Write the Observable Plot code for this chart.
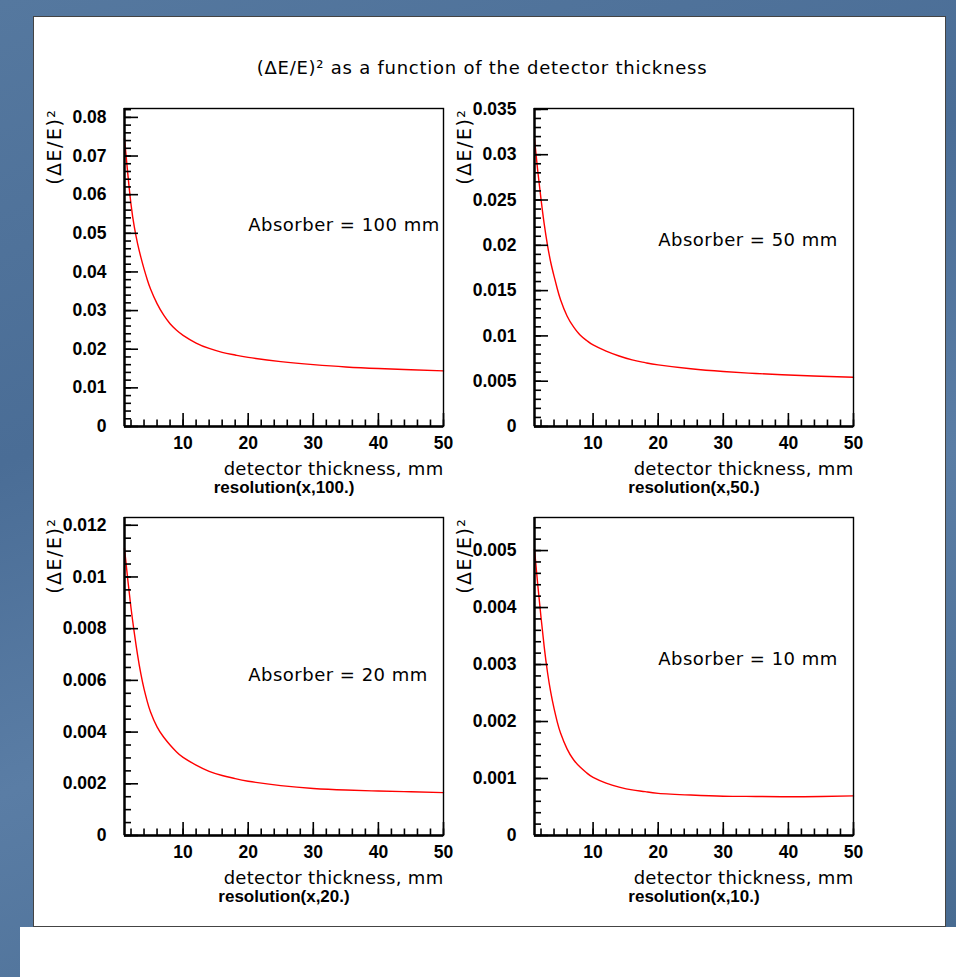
<!DOCTYPE html>
<html><head><meta charset="utf-8">
<script src="https://cdn.jsdelivr.net/npm/d3@7"></script>
<script src="https://cdn.jsdelivr.net/npm/@observablehq/plot@0.6"></script>
<style>
html,body{margin:0;padding:0;}
body{width:956px;height:977px;overflow:hidden;position:relative;
  background:linear-gradient(160deg,#55789f 0%,#4a6d96 35%,#5a7da5 60%,#46698f 100%);}
#below{position:absolute;left:20px;top:927px;width:936px;height:50px;background:#fff;}
#canvas{position:absolute;left:33px;top:16px;width:911px;height:909px;background:#fff;border:1px solid #444;}
#title{position:absolute;left:132px;width:700px;top:57px;text-align:center;font-family:"DejaVu Sans",sans-serif;font-size:18px;letter-spacing:0.75px;color:#000;}
.panel{position:absolute;}
.panel svg{overflow:visible;}
</style></head><body>
<div id="below"></div>
<div id="canvas"></div>
<div id="title">(ΔE/E)² as a function of the detector thickness</div>
<div class="panel" id="p0" style="left:40px;top:95.5px"></div>
<div class="panel" id="p1" style="left:450px;top:95.5px"></div>
<div class="panel" id="p2" style="left:40px;top:505px"></div>
<div class="panel" id="p3" style="left:450px;top:505px"></div>
<script>
// detector thickness (mm) sample points
const thickness = [1, 1.5, 2, 2.5, 3, 3.5, 4, 4.5, 5, 6, 7, 8, 9, 10, 12, 14, 16, 18, 20, 25, 30, 35, 40, 45, 50];
// (ΔE/E)^2 for each absorber thickness
const res100 = [0.0745, 0.0655, 0.0575, 0.0517, 0.0474, 0.0439, 0.0408, 0.0380, 0.0356, 0.0318, 0.0289, 0.0266, 0.0249, 0.0236, 0.0216, 0.0202, 0.0192, 0.0185, 0.0179, 0.0168, 0.0160, 0.0154, 0.0150, 0.0147, 0.0144];
const res50  = [0.0317, 0.0282, 0.0251, 0.0223, 0.0200, 0.0181, 0.0166, 0.0152, 0.0140, 0.0122, 0.0110, 0.0101, 0.0095, 0.0090, 0.00832, 0.00778, 0.00735, 0.00705, 0.00680, 0.00637, 0.00607, 0.00585, 0.00568, 0.00555, 0.00543];
const res20  = [0.0111, 0.0099, 0.0088, 0.00785, 0.0070, 0.00627, 0.00567, 0.00518, 0.00478, 0.00420, 0.00381, 0.00350, 0.00323, 0.00302, 0.00272, 0.00248, 0.00232, 0.00220, 0.00210, 0.00193, 0.00182, 0.00176, 0.00172, 0.00169, 0.00166];
const res10  = [0.00502, 0.00440, 0.00383, 0.00330, 0.00286, 0.00251, 0.00223, 0.00199, 0.00180, 0.00152, 0.00133, 0.00120, 0.00110, 0.00102, 0.00092, 0.00085, 0.00080, 0.00077, 0.00074, 0.00071, 0.00069, 0.000685, 0.00068, 0.000685, 0.000695];

const functionNames = ["resolution(x,100.)", "resolution(x,50.)", "resolution(x,20.)", "resolution(x,10.)"];
const absorberLabels = ["Absorber = 100 mm", "Absorber = 50 mm", "Absorber = 20 mm", "Absorber = 10 mm"];
const absorberLabelX = [20, 20, 20, 20];
const absorberLabelY = [0.052, 0.0206, 0.0062, 0.0031];

const xRange = [1, 50];
const xTicks = [10, 20, 30, 40, 50];
const xMinorStep = 2;
const yTop = [0.0823, 0.0351, 0.0123, 0.00558];
const yTicks100 = [0, 0.01, 0.02, 0.03, 0.04, 0.05, 0.06, 0.07, 0.08];
const yTicks50  = [0, 0.005, 0.01, 0.015, 0.02, 0.025, 0.03, 0.035];
const yTicks20  = [0, 0.002, 0.004, 0.006, 0.008, 0.01, 0.012];
const yTicks10  = [0, 0.001, 0.002, 0.003, 0.004, 0.005];
const yMinorStep = [0.002, 0.001, 0.0005, 0.0002];

const xTitle = "detector thickness, mm";
const yTitle = "(ΔE/E)²";

const series = [res100, res50, res20, res10];
const yTicks = [yTicks100, yTicks50, yTicks20, yTicks10];

function minorTicks(lo, hi, step) {
  const n = Math.floor(hi / step + 1e-9);
  const out = [];
  for (let k = Math.ceil(lo / step - 1e-9); k <= n; k++) out.push(+(k * step).toPrecision(10));
  return out;
}

const tickFont = '"Liberation Sans", Arial, sans-serif';
const textFont = '"DejaVu Sans", sans-serif';

function panel(i) {
  const W = 418, H = 410, mL = 84, mR = 15, mT = 12, mB = 80;
  const fw = W - mL - mR, fh = H - mT - mB;
  const data = thickness.map((x, j) => ({thickness: x, value: series[i][j]}));
  const yMinor = minorTicks(0, yTop[i], yMinorStep[i]);
  const xMinor = minorTicks(xRange[0], xRange[1], xMinorStep);
  return Plot.plot({
    width: W, height: H,
    marginLeft: mL, marginRight: mR, marginTop: mT, marginBottom: mB,
    x: {domain: xRange},
    y: {domain: [0, yTop[i]]},
    style: {background: "transparent", overflow: "visible"},
    marks: [
      Plot.line(data, {x: "thickness", y: "value", stroke: "#ff0000", strokeWidth: 1.4, curve: "natural"}),
      Plot.frame({stroke: "#000", strokeWidth: 1.4}),
      Plot.tickY(yMinor, {y: d => d, insetRight: fw - 7, stroke: "#000", strokeWidth: 1.6}),
      Plot.tickY(yTicks[i], {y: d => d, insetRight: fw - 14, stroke: "#000", strokeWidth: 1.6}),
      Plot.tickX(xMinor, {x: d => d, insetTop: fh - 6.5, stroke: "#000", strokeWidth: 1.6}),
      Plot.tickX(xTicks, {x: d => d, insetTop: fh - 13, stroke: "#000", strokeWidth: 1.6}),
      Plot.ruleX([xRange[0]], {stroke: "#000", strokeWidth: 2.4}),
      Plot.ruleY([0], {stroke: "#000", strokeWidth: 2.4}),
      Plot.axisY(yTicks[i], {tickSize: 0, tickPadding: 18, tickFormat: d => String(d), label: null,
        fontSize: 17.5, fontWeight: "bold", fontFamily: tickFont, fill: "#000"}),
      Plot.axisX(xTicks, {tickSize: 0, tickPadding: 10, tickFormat: d => String(d), label: null,
        fontSize: 17.5, fontWeight: "bold", fontFamily: tickFont, fill: "#000"}),
      Plot.text([xTitle], {text: d => d, frameAnchor: "bottom-right", dy: 42.5, textAnchor: "end",
        lineAnchor: "middle", fontSize: 18, fontFamily: textFont, fill: "#000"}),
      Plot.text([functionNames[i]], {text: d => d, frameAnchor: "bottom", dy: 61.5, textAnchor: "middle",
        lineAnchor: "middle", fontSize: 17, fontWeight: "bold", fontFamily: tickFont, fill: "#000"}),
      Plot.text([yTitle], {text: d => d, frameAnchor: "top-left", dx: -70, rotate: -90, textAnchor: "end",
        lineAnchor: "middle", fontSize: 19, fontFamily: textFont, fill: "#000"}),
      Plot.text([absorberLabels[i]], {x: () => absorberLabelX[i], y: () => absorberLabelY[i], text: d => d,
        textAnchor: "start", lineAnchor: "middle", fontSize: 18, fontFamily: textFont, fill: "#000"})
    ]
  });
}

for (let i = 0; i < 4; i++) document.getElementById("p" + i).appendChild(panel(i));
// letter spacing for wide ROOT-style text
document.querySelectorAll(".panel svg text").forEach(t => {
  const s = t.textContent;
  if (s.startsWith("Absorber")) t.setAttribute("letter-spacing", "0.5");
  else if (s.startsWith("detector")) t.setAttribute("letter-spacing", "0.3");
  else if (s.startsWith("(ΔE")) t.setAttribute("letter-spacing", "1.5");
});
</script>
</body></html>
